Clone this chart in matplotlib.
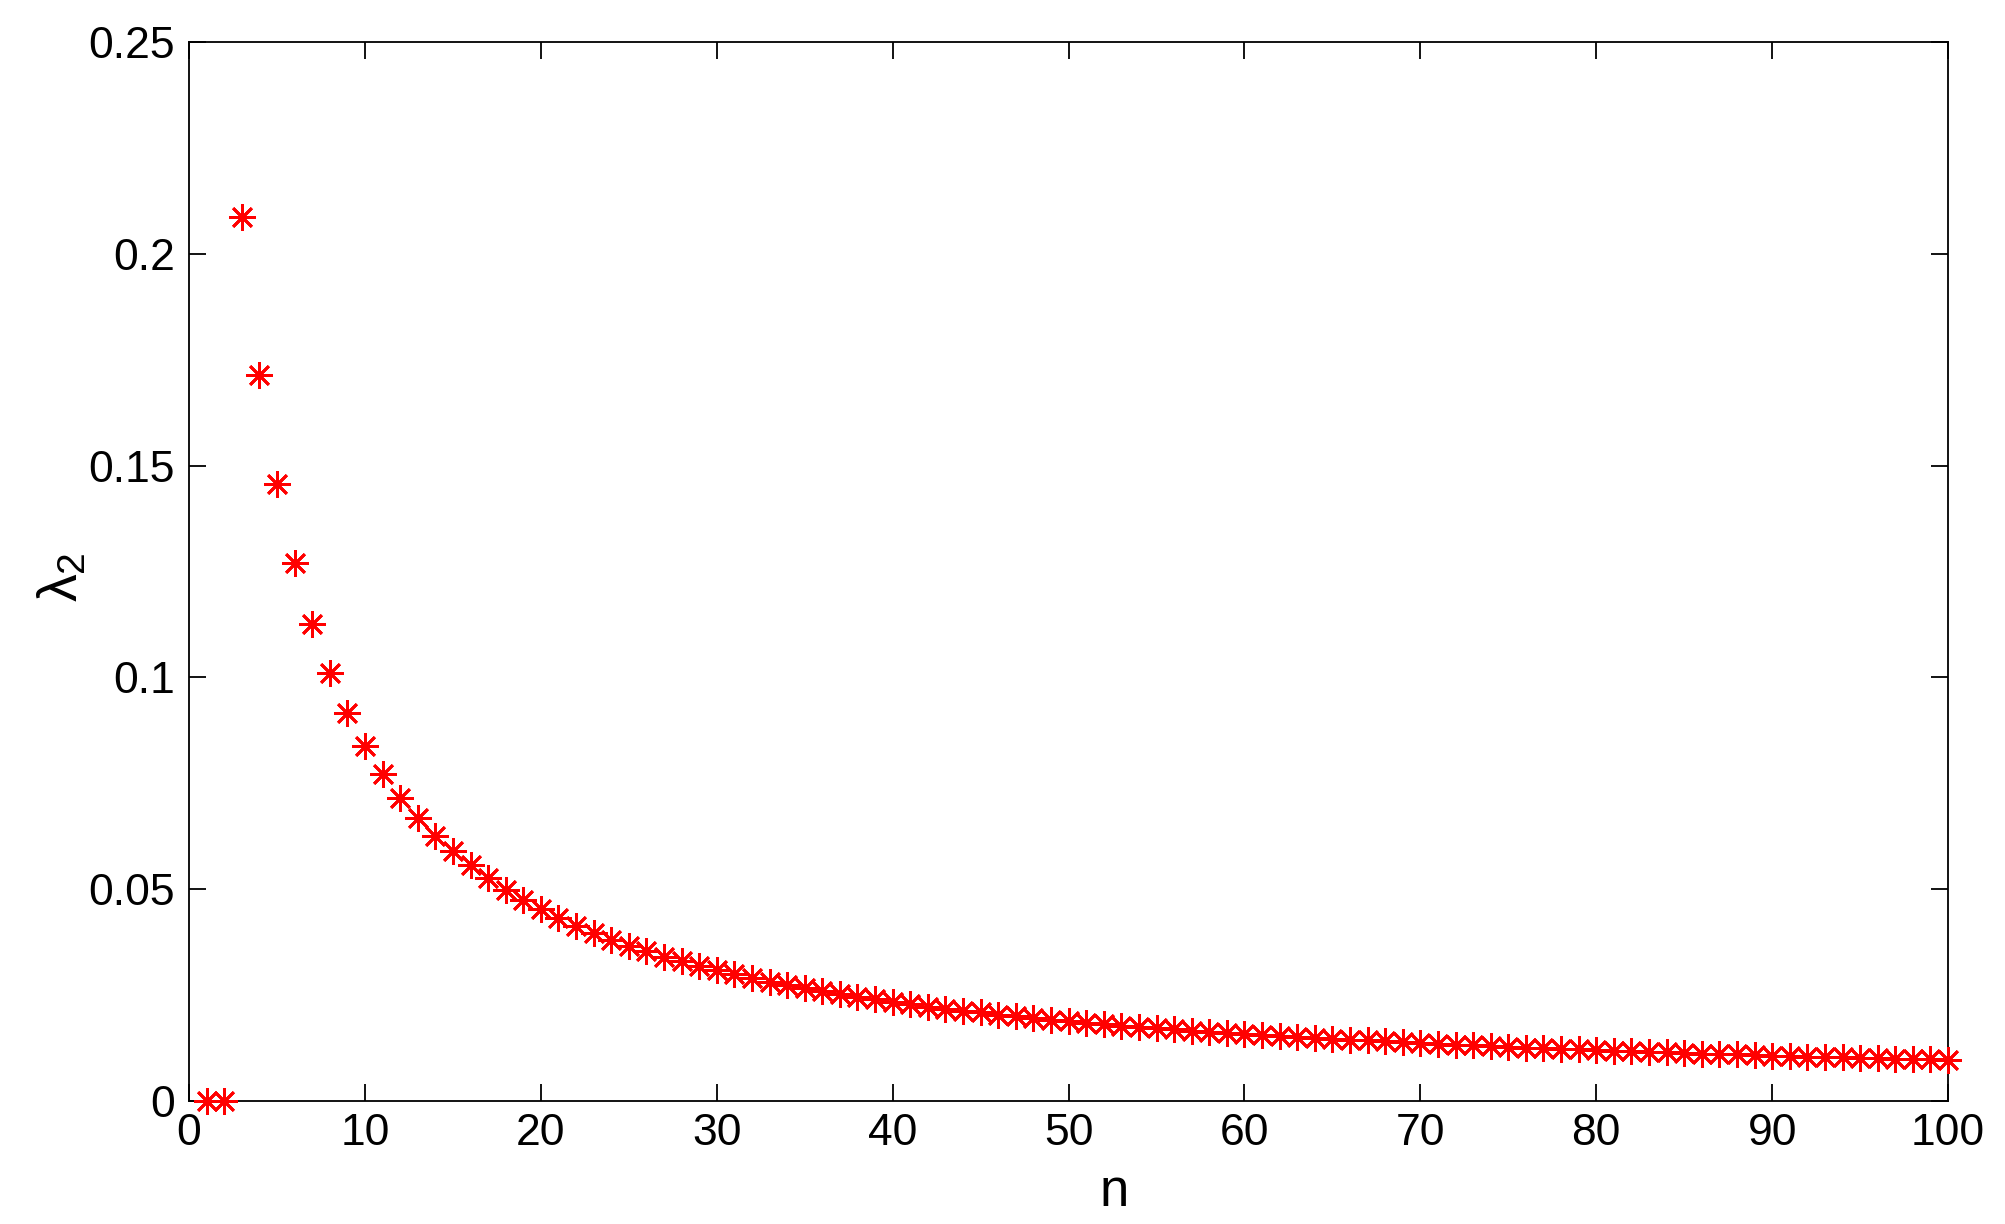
import matplotlib as mpl
mpl.use('Agg')
import matplotlib.pyplot as plt
import numpy as np
from matplotlib.ticker import FormatStrFormatter

# data
n = np.arange(1, 101)
lam2 = [0.0, 0.0, 0.2086, 0.1714, 0.1457, 0.1270, 0.1125, 0.1010, 0.0916, 0.0837,
        0.0771, 0.0716, 0.0668, 0.0626, 0.0589, 0.0556, 0.0526, 0.0499, 0.0475, 0.0453,
        0.0433, 0.0414, 0.0397, 0.0381, 0.0367, 0.0354, 0.0341, 0.0330, 0.0319, 0.0309,
        0.0299, 0.0290, 0.0282, 0.0274, 0.0266, 0.0259, 0.0252, 0.0246, 0.0240, 0.0234,
        0.0228, 0.0223, 0.0218, 0.0213, 0.0209, 0.0204, 0.0200, 0.0196, 0.0192, 0.0189,
        0.0185, 0.0182, 0.0178, 0.0175, 0.0172, 0.0169, 0.0166, 0.0164, 0.0161, 0.0159,
        0.0156, 0.0154, 0.0151, 0.0149, 0.0147, 0.0145, 0.0143, 0.0141, 0.0139, 0.0137,
        0.0135, 0.0133, 0.0131, 0.0130, 0.0128, 0.0126, 0.0125, 0.0123, 0.0122, 0.0120,
        0.0119, 0.0117, 0.0116, 0.0115, 0.0113, 0.0112, 0.0111, 0.0110, 0.0108, 0.0107,
        0.0106, 0.0105, 0.0104, 0.0103, 0.0102, 0.0101, 0.0100, 0.0099, 0.0098, 0.0097]
xticks = np.arange(0, 101, 10)
yticks = [0, 0.05, 0.1, 0.15, 0.2, 0.25]

params = {'font.family': ['Liberation Sans', 'DejaVu Sans'],
          'mathtext.fontset': 'custom',
          'mathtext.rm': 'Liberation Sans',
          'mathtext.it': 'Liberation Sans',
          'font.size': 32,
          'axes.linewidth': 1.3,
          'xtick.direction': 'in',
          'ytick.direction': 'in',
          'xtick.top': True,
          'ytick.right': True,
          'xtick.major.size': 12,
          'ytick.major.size': 12,
          'xtick.major.width': 1.3,
          'ytick.major.width': 1.3,
          'xtick.major.pad': 9,
          'ytick.major.pad': 10}
mpl.rcParams.update(params)

fig = plt.figure(figsize=(20.05, 12.24), dpi=100)
ax = fig.add_axes([0.0943, 0.1005, 0.8773, 0.8652])

ax.plot(n, lam2, linestyle='none', marker=(8, 2, 0), markersize=19,
        markeredgewidth=2.0, color='red', clip_on=False, zorder=3)

ax.set_xlim(0, 100)
ax.set_ylim(0, 0.25)
ax.set_xticks(xticks)
ax.set_yticks(yticks)
ax.yaxis.set_major_formatter(FormatStrFormatter('%g'))
ax.set_xlabel('n', fontsize=38)
ax.set_ylabel(r'$\lambda_2$', fontsize=40)
ax.xaxis.set_label_coords(0.526, -0.062)
ax.yaxis.set_label_coords(-0.057, 0.495)

fig.savefig('out.png', dpi=100)
